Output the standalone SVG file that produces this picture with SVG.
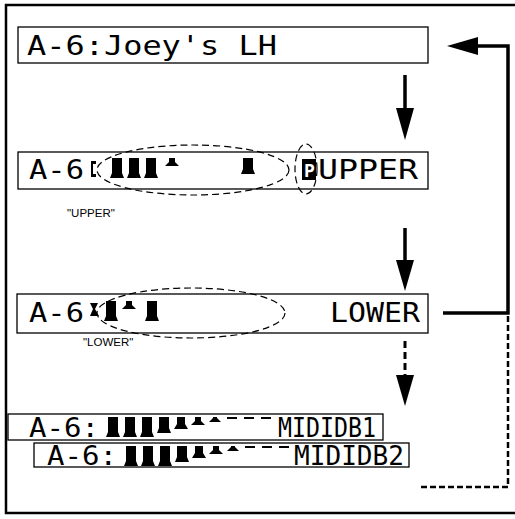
<svg xmlns="http://www.w3.org/2000/svg" width="515" height="519" viewBox="0 0 515 519">
<style>
.lcd{fill:#fff;stroke:#000;stroke-width:1.3}
.t{font-family:"DejaVu Sans Mono","Liberation Mono",monospace;font-size:27px;fill:#000}
.lab{font-family:"Liberation Sans",Arial,sans-serif;font-size:11.5px;fill:#000}
.ell{fill:none;stroke:#000;stroke-width:1.2;stroke-dasharray:7 4}
.bar{fill:#000}
.solid{fill:none;stroke:#000;stroke-width:3.5}
.dash{fill:none;stroke:#000;stroke-width:3;stroke-dasharray:7 4}
.dash2{fill:none;stroke:#000;stroke-width:2.5;stroke-dasharray:6 3}
</style>
<defs>
<path id="b20" d="M-5,0 H5 V15 L7,20 H-7 L-5,15 Z"/>
<path id="b16" d="M-5,0 H5 V11 L7,16 H-7 L-5,11 Z"/>
<path id="b12" d="M-4,0 H4 V7 L7,12 H-7 L-4,7 Z"/>
<path id="b8" d="M-3,0 H3 V4 L7,8 H-7 L-3,4 Z"/>
<path id="b5" d="M-2,0 H2 V1 L6,5 H-6 L-2,1 Z"/>
<path id="b2" d="M-5,0 H5 V2 H-5 Z"/>
</defs>
<rect x="6" y="5" width="512" height="508" fill="#fff" stroke="#000" stroke-width="2.5"/>

<g id="connectors">
<line class="solid" x1="405" y1="75" x2="405" y2="110"/>
<polygon points="396,108 414,108 405,140"/>
<line class="solid" x1="405" y1="228" x2="405" y2="262"/>
<polygon points="396,260 414,260 405,291"/>
<line class="dash" x1="405" y1="341" x2="405" y2="376"/>
<polygon points="396,375 414,375 405,406"/>
<polyline class="solid" points="443,313 508,313 508,46 476,46"/>
<polygon points="478,37 478,55 447,46"/>
<line class="dash2" x1="508" y1="316" x2="508" y2="487"/>
<line class="dash2" x1="508" y1="487" x2="418" y2="487"/>
</g>

<g id="n1">
<rect class="lcd" x="18" y="27" width="410" height="36"/>
<text class="t" x="27" y="55" textLength="250" lengthAdjust="spacingAndGlyphs">A-6:Joey's LH</text>
</g>

<g id="n2">
<rect class="lcd" x="18" y="152" width="410" height="37"/>
<text class="t" x="29" y="179" textLength="55" lengthAdjust="spacingAndGlyphs">A-6</text>
<path class="bar" d="M91,161 H96 V164 H93 V174 H96 V177 H91 Z"/>
<use href="#b20" x="117" y="158"/>
<use href="#b20" x="134" y="158"/>
<use href="#b20" x="151" y="158"/>
<use href="#b8" x="172" y="158"/>
<use href="#b16" x="248" y="158"/>
<ellipse class="ell" cx="193" cy="170" rx="96" ry="25"/>
<rect x="302" y="159" width="14" height="21" fill="#000"/>
<text x="304" y="177" font-family="DejaVu Sans Mono,monospace" font-size="18" fill="#fff" font-weight="bold">P</text>
<ellipse class="ell" cx="306" cy="169" rx="11" ry="25"/>
<text class="t" x="318" y="179" textLength="100" lengthAdjust="spacingAndGlyphs">UPPER</text>
</g>
<text class="lab" x="67" y="217">"UPPER"</text>

<g id="n3">
<rect class="lcd" x="17" y="294" width="411" height="39"/>
<text class="t" x="29" y="322" textLength="55" lengthAdjust="spacingAndGlyphs">A-6</text>
<path class="bar" d="M90,303 H98 L95,309 L99,316 H90 L93,309 Z"/>
<use href="#b20" x="111" y="301"/>
<use href="#b8" x="129" y="301"/>
<use href="#b20" x="152" y="301"/>
<ellipse class="ell" cx="191" cy="313" rx="94" ry="25"/>
<text class="t" x="330" y="322" textLength="90" lengthAdjust="spacingAndGlyphs">LOWER</text>
</g>
<text class="lab" x="83" y="346">"LOWER"</text>

<g id="n4">
<rect class="lcd" x="8" y="414" width="375" height="26"/>
<text class="t" x="29" y="437" textLength="70" lengthAdjust="spacingAndGlyphs">A-6:</text>
<use href="#b20" x="113" y="417"/>
<use href="#b20" x="130" y="417"/>
<use href="#b20" x="147" y="417"/>
<use href="#b16" x="164" y="417"/>
<use href="#b12" x="181" y="417"/>
<use href="#b8" x="198" y="417"/>
<use href="#b5" x="215" y="417"/>
<use href="#b2" x="232" y="417"/>
<use href="#b2" x="249" y="417"/>
<use href="#b2" x="266" y="417"/>
<text class="t" x="278" y="437" textLength="98" lengthAdjust="spacingAndGlyphs">MIDIDB1</text>
</g>

<g id="n5">
<rect class="lcd" x="34" y="443" width="375" height="24"/>
<text class="t" x="47" y="465" textLength="70" lengthAdjust="spacingAndGlyphs">A-6:</text>
<use href="#b20" x="131" y="446"/>
<use href="#b20" x="148" y="446"/>
<use href="#b20" x="165" y="446"/>
<use href="#b16" x="182" y="446"/>
<use href="#b12" x="199" y="446"/>
<use href="#b8" x="216" y="446"/>
<use href="#b5" x="233" y="446"/>
<use href="#b2" x="250" y="446"/>
<use href="#b2" x="267" y="446"/>
<use href="#b2" x="284" y="446"/>
<text class="t" x="294" y="465" textLength="110" lengthAdjust="spacingAndGlyphs">MIDIDB2</text>
</g>
</svg>
